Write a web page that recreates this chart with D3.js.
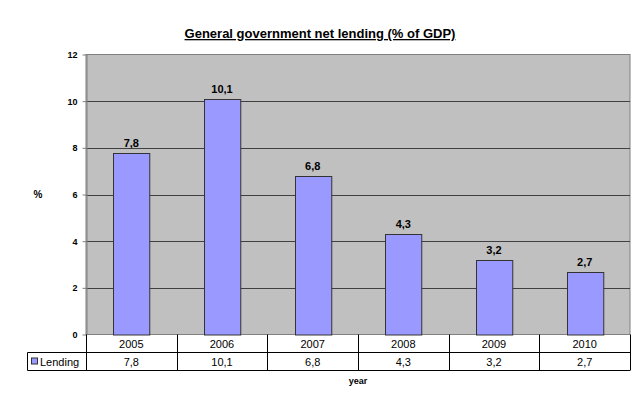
<!DOCTYPE html>
<html>
<head>
<meta charset="utf-8">
<script src="https://cdn.jsdelivr.net/npm/d3@7"></script>
<style>
  body { margin: 0; background: #fff; }
  text { font-family: "Liberation Sans", Arial, sans-serif; }
</style>
</head>
<body>
<div id="chart"></div>
<script>
// data
var years = ["2005", "2006", "2007", "2008", "2009", "2010"];
var lending = [7.8, 10.1, 6.8, 4.3, 3.2, 2.7];
var labels = ["7,8", "10,1", "6,8", "4,3", "3,2", "2,7"];
var yTicks = [0, 2, 4, 6, 8, 10, 12];
var seriesName = "Lending";

var W = 640, H = 397;
var plot = { left: 86, right: 630, top: 54.5, bottom: 334.5 };
var rowH = 18;

var svg = d3.select("#chart").append("svg")
    .attr("width", W)
    .attr("height", H);

// scales
var x = d3.scaleBand()
    .domain(years)
    .range([plot.left, plot.right])
    .paddingInner(0.6)
    .paddingOuter(0.3);
var xCol = d3.scaleBand()
    .domain(years)
    .range([plot.left, plot.right]);
var y = d3.scaleLinear()
    .domain([0, 12])
    .range([plot.bottom, plot.top]);

// plot background
svg.append("rect")
    .attr("x", plot.left)
    .attr("y", plot.top)
    .attr("width", plot.right - plot.left)
    .attr("height", plot.bottom - plot.top)
    .attr("fill", "#c0c0c0")
    .attr("stroke", "#808080")
    .attr("stroke-width", 1);

// gridlines
svg.append("g").selectAll("line")
    .data(yTicks.filter(function(d) { return d > 0 && d < 12; }))
    .enter().append("line")
    .attr("x1", plot.left).attr("x2", plot.right)
    .attr("y1", function(d) { return Math.round(y(d)) + 0.5; })
    .attr("y2", function(d) { return Math.round(y(d)) + 0.5; })
    .attr("stroke", "#404040")
    .attr("stroke-width", 1);

// y axis
var yAxis = svg.append("g")
    .attr("transform", "translate(" + (plot.left + 0.5) + ",0)")
    .call(d3.axisLeft(y).tickValues(yTicks).tickSize(4).tickSizeOuter(0).tickPadding(5));
yAxis.select(".domain").attr("stroke", "#808080");
yAxis.selectAll(".tick line").attr("stroke", "#808080");
yAxis.selectAll("text")
    .attr("font-size", "9px")
    .attr("font-weight", "bold")
    .attr("fill", "#000");

// bars
svg.append("g").selectAll("rect")
    .data(lending)
    .enter().append("rect")
    .attr("x", function(d, i) { return Math.round(x(years[i])) + 0.5; })
    .attr("y", function(d) { return Math.round(y(d)) + 0.5; })
    .attr("width", x.bandwidth())
    .attr("height", function(d) { return y(0) - Math.round(y(d)); })
    .attr("fill", "#9999ff")
    .attr("stroke", "#333333")
    .attr("stroke-width", 1);

// data labels
svg.append("g").selectAll("text")
    .data(lending)
    .enter().append("text")
    .attr("x", function(d, i) { return x(years[i]) + x.bandwidth() / 2; })
    .attr("y", function(d) { return y(d) - 6; })
    .attr("text-anchor", "middle")
    .attr("font-size", "11px")
    .attr("font-weight", "bold")
    .text(function(d, i) { return labels[i]; });

// data table
var t0 = plot.bottom, t1 = t0 + rowH, t2 = t1 + rowH;
var table = svg.append("g")
    .attr("stroke", "#000")
    .attr("stroke-width", 1)
    .attr("fill", "none");
// year row
table.append("line").attr("x1", plot.left).attr("x2", plot.right).attr("y1", t1).attr("y2", t1);
table.append("line").attr("x1", 27.5).attr("x2", plot.right).attr("y1", t2).attr("y2", t2);
table.append("line").attr("x1", 27.5).attr("x2", plot.left).attr("y1", t1).attr("y2", t1);
table.append("line").attr("x1", 27.5).attr("x2", 27.5).attr("y1", t1).attr("y2", t2);
table.selectAll(".col")
    .data(years)
    .enter().append("line")
    .attr("x1", function(d) { return Math.round(xCol(d) + xCol.bandwidth()) + 0.5; })
    .attr("x2", function(d) { return Math.round(xCol(d) + xCol.bandwidth()) + 0.5; })
    .attr("y1", t0).attr("y2", t2);
table.append("line")
    .attr("x1", plot.left + 0.5).attr("x2", plot.left + 0.5)
    .attr("y1", t0).attr("y2", t2);

svg.append("g").selectAll("text")
    .data(years)
    .enter().append("text")
    .attr("x", function(d) { return xCol(d) + xCol.bandwidth() / 2; })
    .attr("y", t0 + 13)
    .attr("text-anchor", "middle")
    .attr("font-size", "11px")
    .text(function(d) { return d; });

svg.append("g").selectAll("text")
    .data(labels)
    .enter().append("text")
    .attr("x", function(d, i) { return xCol(years[i]) + xCol.bandwidth() / 2; })
    .attr("y", t1 + 13)
    .attr("text-anchor", "middle")
    .attr("font-size", "11px")
    .text(function(d) { return d; });

// legend key in table
svg.append("rect")
    .attr("x", 31.5).attr("y", t1 + 5.5)
    .attr("width", 6).attr("height", 6)
    .attr("fill", "#9999ff")
    .attr("stroke", "#333");
svg.append("text")
    .attr("x", 40).attr("y", t1 + 13)
    .attr("font-size", "11px")
    .text(seriesName);

// title
svg.append("text")
    .attr("x", 320)
    .attr("y", 38)
    .attr("text-anchor", "middle")
    .attr("font-size", "13px")
    .attr("font-weight", "bold")
    .attr("text-decoration", "underline")
    .text("General government net lending (% of GDP)");

// axis titles
svg.append("text")
    .attr("x", 38)
    .attr("y", 198)
    .attr("text-anchor", "middle")
    .attr("font-size", "10px")
    .attr("font-weight", "bold")
    .text("%");

svg.append("text")
    .attr("x", 358)
    .attr("y", 384)
    .attr("text-anchor", "middle")
    .attr("font-size", "9px")
    .attr("font-weight", "bold")
    .text("year");
</script>
</body>
</html>
